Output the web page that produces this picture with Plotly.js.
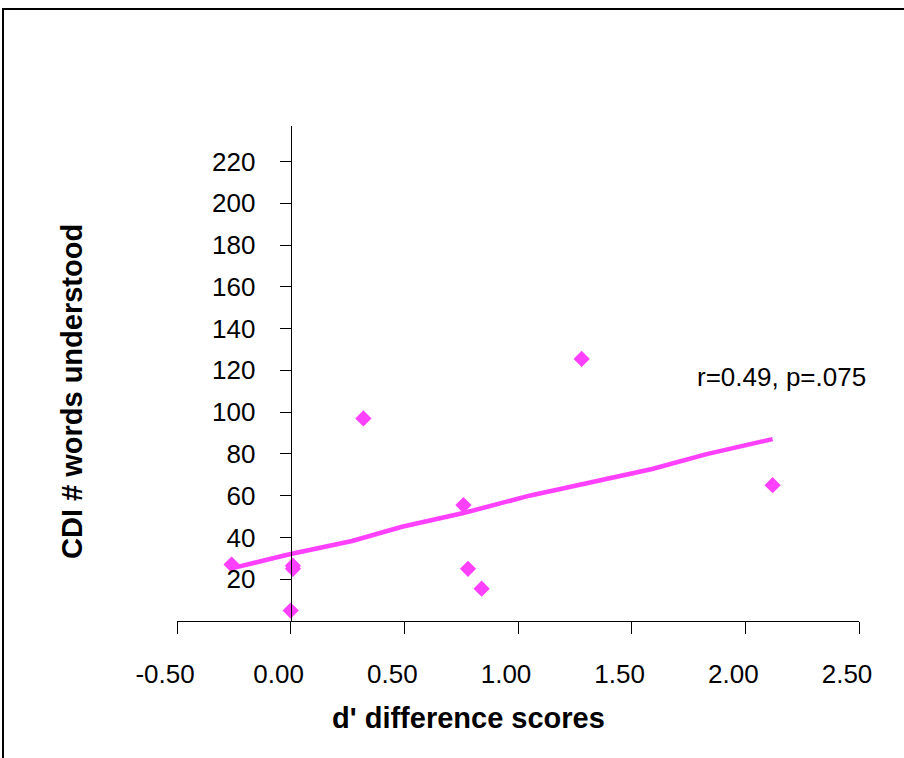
<!DOCTYPE html>
<html>
<head>
<meta charset="utf-8">
<script src="https://cdn.plot.ly/plotly-3.0.1.min.js"></script>
<style>
  html, body { margin: 0; padding: 0; background: #fff; }
  #chart { width: 904px; height: 758px; }
</style>
</head>
<body>
<div id="chart"></div>
<script>
// Data
const dScores = [-0.26, 0.01, 0.01, 0.00, 0.32, 0.76, 0.78, 0.84, 1.28, 2.12];
const cdiWords = [27, 26.5, 25, 5, 97, 55.5, 25, 15.5, 125.5, 65];

// Trend line as drawn in the reference
const trendX = [-0.26, 0.00, 0.27, 0.49, 0.76, 1.05, 1.59, 1.83, 2.12];
const trendY = [25.2, 32.1, 38.3, 45.1, 51.7, 60.0, 72.8, 79.9, 87.1];

const xTicks = [-0.5, 0, 0.5, 1.0, 1.5, 2.0, 2.5];
const xTickLabels = ['-0.50', '0.00', '0.50', '1.00', '1.50', '2.00', '2.50'];
const yTicks = [20, 40, 60, 80, 100, 120, 140, 160, 180, 200, 220];

const xTitle = "d' difference scores";
const yTitle = "CDI # words understood";
const statText = "r=0.49, p=.075";

const pink = '#FF40FF';
const fontFam = 'Arial, "Liberation Sans", sans-serif';

const traces = [
  {
    x: trendX, y: trendY, type: 'scatter', mode: 'lines',
    line: {color: pink, width: 4.5}, hoverinfo: 'skip', showlegend: false
  },
  {
    x: dScores, y: cdiWords, type: 'scatter', mode: 'markers',
    marker: {symbol: 'diamond', size: 12.5, color: pink, line: {width: 0}},
    showlegend: false
  }
];

const layout = {
  width: 904, height: 758,
  margin: {l: 177, r: 45, t: 126, b: 137},
  paper_bgcolor: '#ffffff', plot_bgcolor: '#ffffff',
  font: {family: fontFam, color: '#000', size: 26},
  showlegend: false,
  xaxis: {
    range: [-0.5, 2.5], tickvals: xTicks, ticktext: xTickLabels,
    showgrid: false, zeroline: false, showline: true,
    linecolor: '#000', linewidth: 1,
    ticks: 'outside', ticklen: 12, tickcolor: '#000', tickwidth: 1,
    tickfont: {family: fontFam, size: 26, color: '#000'},
    ticklabelstandoff: 18, ticklabelshift: -12,
    fixedrange: true
  },
  yaxis: {
    range: [0, 237], tickvals: yTicks,
    anchor: 'free', position: 0.5 / 3,
    showgrid: false, zeroline: false, showline: true,
    linecolor: '#000', linewidth: 1,
    ticks: 'outside', ticklen: 11, tickcolor: '#000', tickwidth: 1,
    tickfont: {family: fontFam, size: 26, color: '#000'},
    ticklabelstandoff: 19,
    fixedrange: true
  },
  annotations: [
    {
      text: xTitle, xref: 'paper', yref: 'paper',
      x: (468 - 177) / 682, y: (621 - 718) / 495,
      xanchor: 'center', yanchor: 'middle', showarrow: false,
      font: {family: fontFam, size: 29, weight: 700, color: '#000'}
    },
    {
      text: yTitle, xref: 'paper', yref: 'paper',
      x: (72 - 177) / 682, y: (621 - 392) / 495, textangle: -90,
      xanchor: 'center', yanchor: 'middle', showarrow: false,
      font: {family: fontFam, size: 29, weight: 700, color: '#000'}
    },
    {
      text: statText, xref: 'x', yref: 'y',
      x: 2.16, y: 117, xanchor: 'center', yanchor: 'middle', showarrow: false,
      font: {family: fontFam, size: 26, color: '#000'}
    }
  ],
  shapes: [
    {
      type: 'rect', xref: 'paper', yref: 'paper', layer: 'above',
      x0: (3 - 177) / 682, x1: 1.5, y0: -1, y1: (621 - 9) / 495,
      line: {color: '#000', width: 2}, fillcolor: 'rgba(0,0,0,0)'
    }
  ]
};

Plotly.newPlot('chart', traces, layout, {displayModeBar: false, staticPlot: true});
</script>
</body>
</html>
